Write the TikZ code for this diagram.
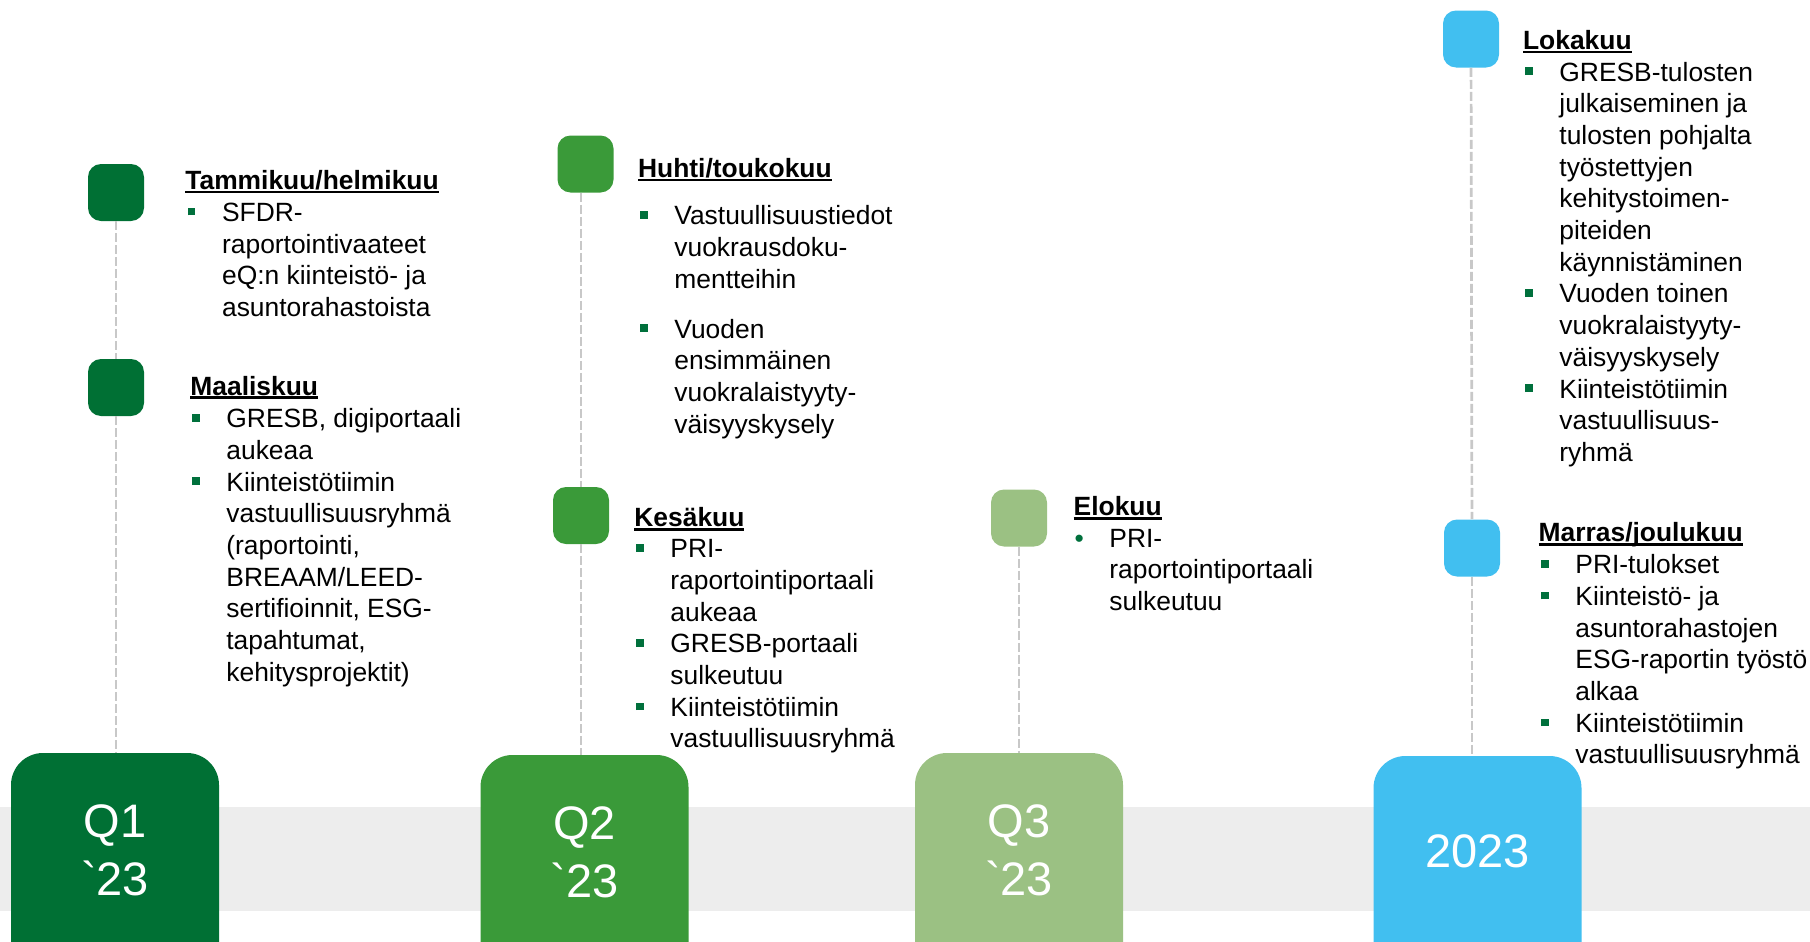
\documentclass[tikz,border=0pt]{standalone}
\usepackage{fontspec}
\setmainfont{Liberation Sans}[Ligatures=TeXOff]

\definecolor{cqone}{RGB}{0,112,52}
\definecolor{cqtwo}{RGB}{58,154,57}
\definecolor{cqthree}{RGB}{155,193,131}
\definecolor{cyear}{RGB}{65,191,240}
\definecolor{cband}{RGB}{237,237,237}
\definecolor{cdash}{RGB}{200,200,200}
\definecolor{cbul}{RGB}{0,112,60}

% underlined month heading
\newlength{\undlwd}
\newcommand{\undl}[1]{\settowidth{\undlwd}{#1}\rlap{\rule[-1.9pt]{\undlwd}{1.2pt}}#1}
% bullets hanging left of the item text
\newcommand{\sqbul}{\llap{\textcolor{cbul}{\rule[3pt]{3.8pt}{3.8pt}}\hspace{13.4pt}}\strut}
\newcommand{\rdbul}{\llap{\textcolor{cbul}{•}\hspace{12.8pt}}\strut}

\begin{document}
\begin{tikzpicture}[x=0.5pt,y=-0.5pt,
    qbox/.style={rounded corners=16pt, minimum width=104pt, minimum height=130pt, inner sep=0pt},
    qtxt/.style={text=white, font=\fontsize{23.5}{28.85}\selectfont, align=center, inner sep=0pt},
    mstone/.style={rounded corners=6.5pt, minimum width=28pt, minimum height=28.5pt, inner sep=0pt},
    dline/.style={cdash, line width=1.35pt, dash pattern=on 4.5pt off 1.5pt},
    ttl/.style={font=\fontsize{13.2}{15.85}\selectfont\bfseries, inner sep=0pt, anchor=base west},
    itm/.style={font=\fontsize{13.2}{15.85}\selectfont, inner sep=0pt, align=left, anchor=north west}]
    \useasboundingbox (0,0) rectangle (1810,942);
    \clip (0,0) rectangle (1810,942);

    % Grey band
    \fill[cband] (0,807) rectangle (1810,911);

    % Quarter boxes
    \node[qbox, fill=cqone] (q1) at (115,883) {};
    \node[qbox, fill=cqtwo] (q2) at (584.5,885) {};
    \node[qbox, fill=cqthree] (q3) at (1019,883) {};
    \node[qbox, fill=cyear] (q4) at (1477.5,886) {};
    \node[qtxt, anchor=north] (q1t) at (115,796.9) {\strut Q1\\`23};
    \node[qtxt, anchor=north] (q2t) at (584.5,798.6) {\strut Q2\\`23};
    \node[qtxt, anchor=north] (q3t) at (1019,796.9) {\strut Q3\\`23};
    \node[qtxt, anchor=base] (q4t) at (1477.5,867.3) {2023};

    % Milestones
    \node[mstone, fill=cqone] (m1a) at (116,192.5) {};
    \node[mstone, fill=cqone] (m1b) at (116,387.5) {};
    \node[mstone, fill=cqtwo] (m2a) at (585.5,164) {};
    \node[mstone, fill=cqtwo] (m2b) at (581,515.5) {};
    \node[mstone, fill=cqthree] (m3) at (1019,518) {};
    \node[mstone, fill=cyear] (m4a) at (1471,39) {};
    \node[mstone, fill=cyear] (m4b) at (1472,548) {};

    % Dashed stems
    \draw[dline] (m1a) -- (m1b);
    \draw[dline] (m1b) -- (m1b |- q1.north);
    \draw[dline] (m2a.south -| m2b) -- (m2b);
    \draw[dline] (m2b) -- (m2b |- q2.north);
    \draw[dline] (m3) -- (m3 |- q3.north);
    \draw[dline] (m4a) -- (m4b);
    \draw[dline] (m4b) -- (m4b |- q4.north);

    % Q1
    \node[ttl] (t1) at (185,189.3) {\undl{Tammikuu/helmikuu}};
    \node[itm] (i1) at (221.7,198.8) {\sqbul SFDR-\\raportointivaateet\\eQ:n kiinteistö- ja\\asuntorahastoista};
    \node[ttl] (t2) at (190,395) {\undl{Maaliskuu}};
    \node[itm] (i2) at (226,405.1) {\sqbul GRESB, digiportaali\\aukeaa\\\sqbul Kiinteistötiimin\\vastuullisuusryhmä\\(raportointi,\\BREAAM/LEED-\\sertifioinnit, ESG-\\tapahtumat,\\kehitysprojektit)};

    % Q2
    \node[ttl] (t3) at (637.7,177.3) {\undl{Huhti/toukokuu}};
    \node[itm] (i3) at (674,202.1) {\sqbul Vastuullisuustiedot\\vuokrausdoku-\\mentteihin\\[9.15pt]\sqbul Vuoden\\ensimmäinen\\vuokralaistyyty-\\väisyyskysely};
    \node[ttl] (t4) at (634,526.7) {\undl{Kesäkuu}};
    \node[itm] (i4) at (670,535.1) {\sqbul PRI-\\raportointiportaali\\aukeaa\\\sqbul GRESB-portaali\\sulkeutuu\\\sqbul Kiinteistötiimin\\vastuullisuusryhmä};

    % Q3
    \node[ttl] (t5) at (1073.3,515.7) {\undl{Elokuu}};
    \node[itm] (i5) at (1109,524.5) {\rdbul PRI-\\raportointiportaali\\sulkeutuu};

    % 2023
    \node[ttl] (t6) at (1522.7,49.3) {\undl{Lokakuu}};
    \node[itm] (i6) at (1559,58.5) {\sqbul GRESB-tulosten\\julkaiseminen ja\\tulosten pohjalta\\työstettyjen\\kehitystoimen-\\piteiden\\käynnistäminen\\\sqbul Vuoden toinen\\vuokralaistyyty-\\väisyyskysely\\\sqbul Kiinteistötiimin\\vastuullisuus-\\ryhmä};
    \node[ttl] (t7) at (1538.3,541.7) {\undl{Marras/joulukuu}};
    \node[itm] (i7) at (1575,551.1) {\sqbul PRI-tulokset\\\sqbul Kiinteistö- ja\\asuntorahastojen\\ESG-raportin työstö\\alkaa\\\sqbul Kiinteistötiimin\\vastuullisuusryhmä};
\end{tikzpicture}
\end{document}
